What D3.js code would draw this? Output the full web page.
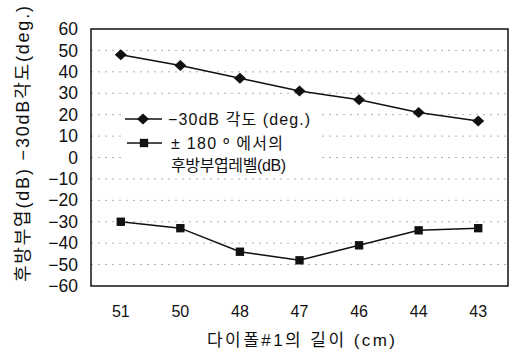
<!DOCTYPE html>
<html><head><meta charset="utf-8">
<script src="https://cdn.jsdelivr.net/npm/d3@7"></script>
<style>body{margin:0;background:#fff;}text{font-family:"Liberation Sans","Noto Sans CJK KR",sans-serif;fill:#111;}</style>
</head><body><svg id="c" width="509" height="356"></svg>
<script>
const categories = ["51","50","48","47","46","44","43"];
const angleValues = [48,43,37,31,27,21,17];
const backlobeValues = [-30,-33,-44,-48,-41,-34,-33];
const yTicks = [60,50,40,30,20,10,0,-10,-20,-30,-40,-50,-60];

const svg = d3.select("#c");
const m = {l:91, r:508, t:29, b:286};
const x = d3.scaleBand().domain(categories).range([m.l, m.r]);
const y = d3.scaleLinear().domain([-60,60]).range([m.b, m.t]);
const cx = d => x(d) + x.bandwidth()/2;
const fmt = v => v < 0 ? "\u2212" + Math.abs(v) : String(v);

// grid
svg.append("g").selectAll("line").data(yTicks.filter(v=>v!==60 && v!==-60)).join("line")
  .attr("x1", m.l).attr("x2", m.r).attr("y1", d=>y(d)).attr("y2", d=>y(d))
  .attr("stroke", "#b0b0b0").attr("stroke-width", 1).attr("stroke-dasharray", "2,5");

// frame
svg.append("rect").attr("x", m.l).attr("y", m.t).attr("width", m.r-m.l).attr("height", m.b-m.t)
  .attr("fill","none").attr("stroke","#111").attr("stroke-width",1.5);

// y axis
const ya = d3.axisLeft(y).tickValues(yTicks).tickFormat(fmt).tickSize(0).tickPadding(13);
const yg = svg.append("g").attr("transform", `translate(${m.l},0)`).call(ya);
yg.select(".domain").remove();
yg.selectAll("text").style("font-size","17.5px").attr("fill","#111");

// x axis
const xa = d3.axisBottom(x).tickSize(0).tickPadding(20);
const xg = svg.append("g").attr("transform", `translate(0,${m.b})`).call(xa);
xg.select(".domain").remove();
xg.selectAll("text").style("font-size","16px").attr("fill","#111");

// titles
svg.append("text").attr("x", 301).attr("y", 346).attr("text-anchor","middle")
  .attr("textLength",188).attr("lengthAdjust","spacing")
  .style("font-size","17px").text("다이폴#1의 길이 (cm)");
svg.append("text").attr("transform","translate(29,144) rotate(-90)").attr("text-anchor","middle")
  .attr("textLength",276).attr("lengthAdjust","spacing")
  .style("font-size","18px").text("후방부엽(dB) \u221230dB각도(deg.)");

// lines
const line = d3.line().x((d,i)=>cx(categories[i])).y(d=>y(d));
svg.append("path").datum(angleValues).attr("d", line).attr("fill","none").attr("stroke","#111").attr("stroke-width",1.5);
svg.append("path").datum(backlobeValues).attr("d", line).attr("fill","none").attr("stroke","#111").attr("stroke-width",1.5);

const diamond = "M0,-5.5L6,0L0,5.5L-6,0Z";
const square = d3.symbol().type(d3.symbolSquare).size(70);
svg.append("g").selectAll("path").data(angleValues).join("path")
  .attr("transform",(d,i)=>`translate(${cx(categories[i])},${y(d)})`).attr("d", diamond).attr("fill","#111");
svg.append("g").selectAll("path").data(backlobeValues).join("path")
  .attr("transform",(d,i)=>`translate(${cx(categories[i])},${y(d)})`).attr("d", square).attr("fill","#111");

// legend
const lg = svg.append("g");
lg.append("rect").attr("x",122).attr("y",106).attr("width",195).attr("height",68).attr("fill","#fff");
lg.append("line").attr("x1",125).attr("x2",162).attr("y1",119).attr("y2",119).attr("stroke","#111").attr("stroke-width",1.5);
lg.append("path").attr("transform","translate(143,119)").attr("d",diamond).attr("fill","#111");
lg.append("text").attr("x",168).attr("y",125).attr("textLength",142).attr("lengthAdjust","spacing")
  .style("font-size","16px").text("\u221230dB 각도 (deg.)");
lg.append("line").attr("x1",127).attr("x2",162).attr("y1",143).attr("y2",143).attr("stroke","#111").attr("stroke-width",1.5);
lg.append("path").attr("transform","translate(144,143)").attr("d",square).attr("fill","#111");
lg.append("text").attr("x",171).attr("y",149).attr("textLength",112).attr("lengthAdjust","spacing")
  .style("font-size","16px").text("± 180 º 에서의");
lg.append("text").attr("x",171).attr("y",171).attr("textLength",115).attr("lengthAdjust","spacing")
  .style("font-size","16px").text("후방부엽레벨(dB)");
</script></body></html>
